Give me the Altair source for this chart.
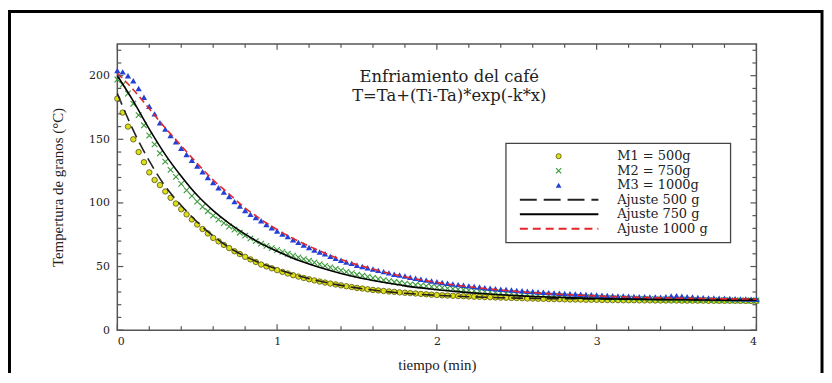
import altair as alt
import pandas as pd

# ---------------- data ----------------
# sampling grid of the measurements (every 2 s) and of the fitted curves
t_data = [round(i / 30, 4) for i in range(121)]
t_fit = [round(i / 10, 2) for i in range(41)]

m1_500 = [182, 171, 160, 150, 140, 132, 124, 118, 114, 109, 104, 99.5, 95, 91, 87, 83,
          79.5, 76, 72.5, 69.8, 67, 64.5, 62, 59.8, 57.6, 55.6, 53.6, 51.6, 50.1, 48.6,
          47.2, 45.8, 44.5, 43.2, 42.1, 41, 40, 39.1, 38.2, 37.4, 36.6, 35.9, 35.2,
          34.5, 33.9, 33.2, 32.7, 32.1, 31.6, 31.2, 30.8, 30.4, 30.1, 29.7, 29.4, 29.1,
          28.8, 28.5, 28.2, 27.9, 27.6, 27.4, 27.2, 27.0, 26.8, 26.7, 26.5, 26.3, 26.2,
          26, 25.9, 25.7, 25.6, 25.5, 25.3, 25.2, 25.1, 24.9, 24.8, 24.7, 24.6, 24.5,
          24.4, 24.3, 24.2, 24.1, 24.1, 24.0, 23.9, 23.9, 23.8, 23.7, 23.7, 23.6, 23.6,
          23.5, 23.5, 23.5, 23.4, 23.4, 23.4, 23.3, 23.3, 23.3, 23.3, 23.3, 23.2, 23.2,
          23.2, 23.2, 23.2, 23.1, 23.1, 23.1, 23.1, 23.1, 23.1, 23.0, 23.0, 23.0, 23.0]

m2_750 = [197, 193, 186, 178, 169, 161, 153, 146, 139, 132.5, 126, 120.5, 115, 110,
          105.5, 101, 97, 93.5, 90, 87, 84.2, 81.5, 79, 76.6, 74.3, 72.1, 70, 68, 66.2,
          64.5, 63, 61.5, 60, 58.5, 57.2, 55.8, 54.5, 53.2, 51.8, 50.5, 49.3, 48.2, 47,
          45.8, 44.7, 43.5, 42.8, 42, 41, 40.2, 39.3, 38.5, 37.8, 37.2, 36.5, 36, 35.5,
          35, 34.6, 34.1, 33.7, 33.3, 32.8, 32.4, 32, 31.7, 31.3, 31, 30.6, 30.3, 30,
          29.7, 29.4, 29.1, 28.9, 28.6, 28.3, 28.1, 27.8, 27.6, 27.3, 27.1, 26.9,
          26.7, 26.5, 26.3, 26.2, 26.0, 25.8, 25.7, 25.5, 25.4, 25.2, 25.1, 25.0,
          24.9, 24.8, 24.7, 24.6, 24.5, 24.4, 24.3, 24.2, 24.1, 24.1, 24.0, 23.9,
          23.9, 23.8, 23.7, 23.7, 23.6, 23.6, 23.5, 23.5, 23.5, 23.4, 23.4, 23.4,
          23.3, 23.3]

m3_1000 = [204, 203, 200, 196, 190, 183, 176, 170, 163, 158, 153, 148, 143, 138, 133.5,
           129, 124.5, 120, 116, 112, 108.5, 105, 101, 97.5, 94, 91, 88.5, 86, 83,
           80.5, 78, 75.5, 73.5, 71, 69, 67, 65, 63, 61.5, 60, 58, 56.5, 55, 53.5,
           52.5, 51, 50, 49, 48, 47, 46, 45, 44, 43.3, 42.5, 41.6, 40.8, 40, 39.3,
           38.6, 38, 37.4, 36.8, 36.3, 35.8, 35.3, 34.8, 34.3, 33.9, 33.4, 33.0,
           32.6, 32.2, 31.9, 31.5, 31.2, 30.9, 30.6, 30.3, 30.0, 29.8, 29.5, 29.3,
           29.0, 28.8, 28.6, 28.4, 28.2, 28.0, 27.8, 27.6, 27.4, 27.3, 27.1, 26.9,
           26.8, 26.6, 26.5, 26.3, 26.2, 26.1, 26.0, 25.9, 26.3, 26.8, 27.0, 26.7,
           26.3, 26.0, 25.7, 25.5, 25.3, 25.2, 25.1, 25.0, 24.9, 24.7, 24.6, 24.5,
           24.4, 24.3]

fit_500 = [186, 157, 133, 113, 98, 85, 74, 65, 58, 52.5, 48, 44, 40.5, 37.6, 35.2,
           33.2, 31.5, 30.1, 29, 28.1, 27.4, 26.8, 26.3, 25.9, 25.5, 25.2, 25.0, 24.8,
           24.7, 24.6, 24.5, 24.4, 24.4, 24.3, 24.3, 24.3, 24.2, 24.2, 24.2, 24.2, 24.2]
fit_750 = [200, 180, 158, 138, 121, 106, 94, 84, 75.5, 68, 62, 56.5, 52, 48, 44.5,
           41.5, 39, 36.8, 34.8, 33.2, 31.8, 30.6, 29.5, 28.6, 27.8, 27.1, 26.5, 26.0,
           25.6, 25.2, 24.9, 24.6, 24.4, 24.2, 24.0, 23.9, 23.8, 23.7, 23.6, 23.5, 23.5]
fit_1000 = [202, 189, 174, 159, 145, 131, 118, 107, 96, 87, 79, 72, 66, 60.5, 55.5,
            51.5, 48, 44.8, 42, 39.6, 37.5, 35.7, 34.1, 32.7, 31.5, 30.4, 29.5, 28.7,
            28.0, 27.4, 26.9, 26.4, 26.0, 25.7, 25.4, 25.2, 25.0, 24.8, 24.6, 24.5, 24.4]

x_major = [0, 1, 2, 3, 4]
x_minor = [round(0.2 * i, 1) for i in range(21) if i % 5]
y_major = [0, 50, 100, 150, 200]
y_minor = [v for v in range(10, 225, 10) if v % 50]

legend_labels = ["M1 = 500g", "M2 = 750g", "M3 = 1000g",
                 "Ajuste 500 g", "Ajuste 750 g", "Ajuste 1000 g"]
title_lines = ["Enfriamiento del café", "T=Ta+(Ti-Ta)*exp(-k*x)"]

# ---------------- layout ----------------
W, H = 643, 288
SERIF = "Liberation Serif"
WIDE = "DejaVu Serif"
XS = alt.Scale(domain=[0, 4], nice=False, zero=False)
YS = alt.Scale(domain=[0, 225], nice=False, zero=True)

pts = pd.DataFrame({"t": t_data, "m1": m1_500, "m2": m2_750, "m3": m3_1000})
fits = pd.DataFrame({"t": t_fit, "f1": fit_500, "f2": fit_750, "f3": fit_1000})

xax = alt.Axis(values=x_major, format="d", ticks=False, domain=False, grid=False,
               labelFont=WIDE, labelFontSize=11, labelColor="#222", labelPadding=5,
               title="tiempo (min)", titleFont=SERIF, titleFontSize=15,
               titleFontWeight="normal", titleColor="#222", titlePadding=12)
yax = alt.Axis(values=y_major, format="d", ticks=False, domain=False, grid=False,
               labelFont=WIDE, labelFontSize=11, labelColor="#222", labelPadding=8,
               title="Tempertura de granos (°C)", titleFont=SERIF, titleFontSize=15,
               titleFontWeight="normal", titleColor="#222", titlePadding=23)

base = alt.Chart(pts)
frame_layer = alt.Chart(alt.Data(values=[{}])).mark_rect(
    fillOpacity=0, stroke="black", strokeWidth=3, clip=False
).encode(x=alt.value(-108.5), x2=alt.value(709), y=alt.value(-32.5), y2=alt.value(400))

p1 = base.mark_point(shape="circle", filled=True, fill="#dede1a", stroke="#55550a",
                     strokeWidth=0.8, size=30, opacity=1).encode(
    x=alt.X("t:Q", scale=XS, axis=xax), y=alt.Y("m1:Q", scale=YS, axis=yax))
p2 = base.mark_point(shape="M-1,-1L1,1M-1,1L1,-1", filled=False, stroke="#3a9a3a",
                     strokeWidth=1.1, size=32, opacity=1).encode(
    x=alt.X("t:Q", scale=XS), y=alt.Y("m2:Q", scale=YS))
p3 = base.mark_point(shape="triangle-up", filled=True, color="#2241d6", size=40,
                     opacity=1).encode(
    x=alt.X("t:Q", scale=XS), y=alt.Y("m3:Q", scale=YS))

fb = alt.Chart(fits)
l1 = fb.mark_line(color="#222", strokeWidth=1.6, strokeDash=[12, 6],
                  interpolate="monotone").encode(
    x=alt.X("t:Q", scale=XS), y=alt.Y("f1:Q", scale=YS))
l2 = fb.mark_line(color="black", strokeWidth=1.6, interpolate="monotone").encode(
    x=alt.X("t:Q", scale=XS), y=alt.Y("f2:Q", scale=YS))
l3 = fb.mark_line(color="#e2262b", strokeWidth=1.6, strokeDash=[7, 4],
                  interpolate="monotone").encode(
    x=alt.X("t:Q", scale=XS), y=alt.Y("f3:Q", scale=YS))

# tick marks drawn inside the frame on all four sides
tick_col = "#555"
xt_major = pd.DataFrame({"v": x_major})
xt_minor = pd.DataFrame({"v": x_minor})
yt_major = pd.DataFrame({"v": y_major})
yt_minor = pd.DataFrame({"v": y_minor})
ticks = []
for df, ln in ((xt_major, 6), (xt_minor, 4)):
    ticks.append(alt.Chart(df).mark_rule(color=tick_col, strokeWidth=1.2).encode(
        x=alt.X("v:Q", scale=XS), y=alt.value(H), y2=alt.value(H - ln)))
    ticks.append(alt.Chart(df).mark_rule(color=tick_col, strokeWidth=1.2).encode(
        x=alt.X("v:Q", scale=XS), y=alt.value(0), y2=alt.value(ln)))
for df, ln in ((yt_major, 6), (yt_minor, 4)):
    ticks.append(alt.Chart(df).mark_rule(color=tick_col, strokeWidth=1.2).encode(
        y=alt.Y("v:Q", scale=YS), x=alt.value(0), x2=alt.value(ln)))
    ticks.append(alt.Chart(df).mark_rule(color=tick_col, strokeWidth=1.2).encode(
        y=alt.Y("v:Q", scale=YS), x=alt.value(W), x2=alt.value(W - ln)))

# in-plot title
title_layers = []
for txt, yy, fs in ((title_lines[0], 33, 16.5), (title_lines[1], 52.5, 16.5)):
    title_layers.append(alt.Chart(alt.Data(values=[{"s": txt}])).mark_text(
        font=WIDE, fontSize=fs, color="#222", align="center", baseline="middle"
    ).encode(text="s:N", x=alt.value(334), y=alt.value(yy)))

# legend box
leg = [alt.Chart(alt.Data(values=[{}])).mark_rect(
    fill="white", stroke="#444", strokeWidth=1.3
).encode(x=alt.value(391), x2=alt.value(617), y=alt.value(100), y2=alt.value(200))]
leg_y = [113, 127.6, 142.2, 156.8, 171.4, 186]
for lab, yy in zip(legend_labels, leg_y):
    leg.append(alt.Chart(alt.Data(values=[{"s": lab}])).mark_text(
        font=WIDE, fontSize=13, color="#222", align="left", baseline="middle"
    ).encode(text="s:N", x=alt.value(503), y=alt.value(yy)))
one = alt.Data(values=[{}])
leg.append(alt.Chart(one).mark_point(shape="circle", filled=True, fill="#dede1a",
                                     stroke="#55550a", strokeWidth=0.8, size=26, opacity=1)
           .encode(x=alt.value(444), y=alt.value(leg_y[0])))
leg.append(alt.Chart(one).mark_point(shape="M-1,-1L1,1M-1,1L1,-1", filled=False,
                                     stroke="#3a9a3a", strokeWidth=1.1, size=28, opacity=1)
           .encode(x=alt.value(444), y=alt.value(leg_y[1])))
leg.append(alt.Chart(one).mark_point(shape="triangle-up", filled=True, color="#2241d6",
                                     size=34, opacity=1)
           .encode(x=alt.value(444), y=alt.value(leg_y[2])))
leg.append(alt.Chart(one).mark_rule(color="#222", strokeWidth=1.8, strokeDash=[17, 7])
           .encode(x=alt.value(405), x2=alt.value(484), y=alt.value(leg_y[3])))
leg.append(alt.Chart(one).mark_rule(color="black", strokeWidth=1.8)
           .encode(x=alt.value(405), x2=alt.value(484), y=alt.value(leg_y[4])))
leg.append(alt.Chart(one).mark_rule(color="#e2262b", strokeWidth=1.8, strokeDash=[8, 5])
           .encode(x=alt.value(405), x2=alt.value(484), y=alt.value(leg_y[5])))

chart = alt.layer(frame_layer, p1, p2, p3, l1, l2, l3, *ticks, *title_layers, *leg).properties(
    width=W, height=H,
    padding={"left": 110, "top": 35, "right": 68, "bottom": 42},
    autosize=alt.AutoSizeParams(type="none"),
    background="white",
).configure_view(stroke="#555", strokeWidth=1.5)

chart.save("out.html", embed_options={"renderer": "svg", "actions": False})
